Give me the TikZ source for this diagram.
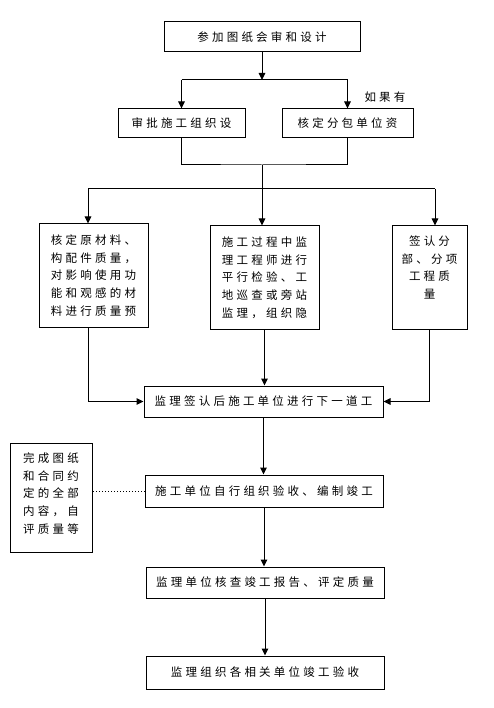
\documentclass[tikz,border=0pt]{standalone}
\usepackage{fontspec}
\newfontfamily\cjk[LetterSpace=28]{Noto Sans CJK SC}
\usepackage{tikz}
\usetikzlibrary{arrows.meta, positioning}

\begin{document}
\begin{tikzpicture}[x=1pt, y=-1pt,
  caixa/.style={draw, line width=1pt, inner sep=0pt, align=center, font=\cjk\fontsize{11.5}{17.7}\selectfont},
  texto/.style={inner sep=0pt, align=center, font=\cjk\fontsize{11.5}{17.7}\selectfont},
  seta/.style={-{Triangle[length=7pt,width=6.5pt]}, line width=1pt}]
\useasboundingbox (0,0) rectangle (493,708);

% Caixa do topo:
\node[caixa, minimum width=196pt, minimum height=30pt] (topo) at (262,37) {参加图纸会审和设计};

% As duas caixas da segunda linha e a nota:
\node[caixa, minimum width=127pt, minimum height=29pt] (aprovar) at (181.5,123.5) {审批施工组织设};
\node[caixa, minimum width=131pt, minimum height=29pt] (verificar) at (347.5,123.5) {核定分包单位资};
\node[texto] (nota) at (385,97) {如果有};

% Ramos entre o topo e a segunda linha:
\coordinate (j1) at (262,80);
\draw[seta] (topo.south) -- (j1);
\draw[line width=1pt] (aprovar.north |- j1) -- (verificar.north |- j1);
\draw[seta] (aprovar.north |- j1) -- (aprovar.north);
\draw[seta] (verificar.north |- j1) -- (verificar.north);

% As tres caixas das colunas:
\node[caixa, minimum width=109pt, minimum height=103pt] (materiais) at (93.5,275.5)
  {核定原材料、\\构配件质量，\\对影响使用功\\能和观感的材\\料进行质量预};
\node[caixa, minimum width=109pt, minimum height=103pt] (processo) at (264.5,277.5)
  {施工过程中监\\理工程师进行\\平行检验、工\\地巡查或旁站\\监理，组织隐};
\node[caixa, minimum width=75pt, minimum height=103pt] (assinar) at (429.5,277.5) {};
\node[texto, anchor=north] (assinartxt) at (429.5,235.5) {签认分\\部、分项\\工程质\\量};

% Juntando a segunda linha e descendo para as colunas:
\coordinate (j2) at (262,165);
\coordinate (j3) at (262,189);
\coordinate (j3e) at (88,189);
\coordinate (j3d) at (435,189);
\draw[line width=1pt] (aprovar.south) |- (j2) -| (verificar.south);
\draw[line width=1pt] (j2) -- (j3);
\draw[line width=1pt] (j3e) -- (j3d);
\draw[seta] (j3e) -- (j3e |- materiais.north);
\draw[seta] (j3) -- (j3 |- processo.north);
\draw[seta] (j3d) -- (j3d |- assinar.north);

% Caixas de baixo:
\node[caixa, minimum width=239pt, minimum height=31pt] (assinatura) at (263.5,401.5) {监理签认后施工单位进行下一道工};
\node[caixa, minimum width=238pt, minimum height=32pt] (execucao) at (264,491) {施工单位自行组织验收、编制竣工};
\node[caixa, minimum width=238pt, minimum height=31pt] (relatorio) at (265,582.5) {监理单位核查竣工报告、评定质量};
\node[caixa, minimum width=238pt, minimum height=33pt] (aceitacao) at (265,672.5) {监理组织各相关单位竣工验收};

% Caixa da esquerda, ligada por pontilhado:
\node[caixa, minimum width=82pt, minimum height=109pt] (concluir) at (51,497.5) {};
\node[texto, anchor=north] (concluirtxt) at (51,452.5) {完成图纸\\和合同约\\定的全部\\内容，自\\评质量等};
\draw[dotted, line width=1pt] (execucao.west) -- (execucao.west -| concluir.east);

% Flechas das colunas ate a caixa de assinatura:
\draw[seta] (materiais.south -| j3e) |- (assinatura.west);
\draw[seta] (processo.south) -- (processo.south |- assinatura.north);
\draw[seta] (assinar.south) |- (assinatura.east);

% Flechas da sequencia final:
\draw[seta] (assinatura.south) -- (assinatura.south |- execucao.north);
\draw[seta] (execucao.south) -- (execucao.south |- relatorio.north);
\draw[seta] (relatorio.south) -- (relatorio.south |- aceitacao.north);
\end{tikzpicture}
\end{document}
